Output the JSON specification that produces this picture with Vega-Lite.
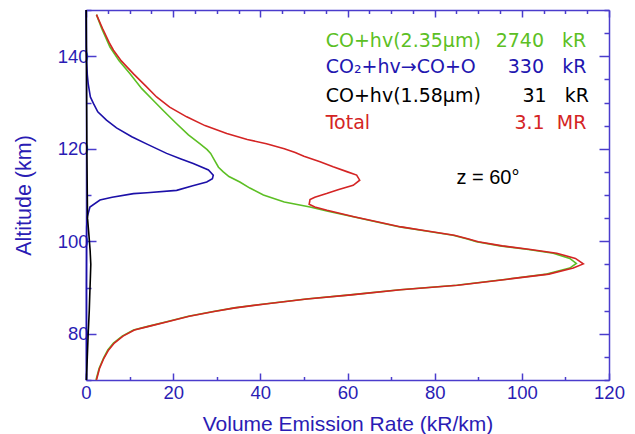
{
 "$schema": "https://vega.github.io/schema/vega-lite/v6.json",
 "width": 523, "height": 370,
 "autosize": {"type": "none"},
 "padding": {"left": 86, "top": 10, "right": 26, "bottom": 54},
 "background": "white",
 "config": {"view": {"stroke": null}, "font": "Liberation Sans"},
 "datasets": {
  "curves": [
   {"s":"g","y":149.0,"x":2.4},{"s":"g","y":146,"x":3.6},{"s":"g","y":142.0,"x":5.5},{"s":"g","y":139,"x":7.6},{"s":"g","y":136.2,"x":10.1},{"s":"g","y":133,"x":12.8},{"s":"g","y":130.5,"x":15.4},{"s":"g","y":128,"x":18.0},{"s":"g","y":125.4,"x":20.8},{"s":"g","y":123,"x":23.5},{"s":"g","y":121.1,"x":26.1},{"s":"g","y":119.8,"x":27.8},{"s":"g","y":119.0,"x":28.6},{"s":"g","y":117.5,"x":29.5},{"s":"g","y":116.0,"x":30.4},{"s":"g","y":115.0,"x":31.5},{"s":"g","y":114.0,"x":32.8},{"s":"g","y":112.8,"x":35.3},{"s":"g","y":111.5,"x":37.6},{"s":"g","y":110.0,"x":40.7},{"s":"g","y":108.5,"x":45.5},{"s":"g","y":107.4,"x":51.4},{"s":"g","y":106.5,"x":55.5},{"s":"g","y":105.3,"x":61.3},{"s":"g","y":104.2,"x":66.5},{"s":"g","y":103.1,"x":72.0},{"s":"g","y":102.2,"x":78.0},{"s":"g","y":101.3,"x":84.2},{"s":"g","y":100.5,"x":87.5},{"s":"g","y":99.9,"x":89.6},{"s":"g","y":99.0,"x":95.0},{"s":"g","y":98.2,"x":101.5},{"s":"g","y":97.4,"x":107.2},{"s":"g","y":96.3,"x":111.0},{"s":"g","y":95.2,"x":112.5},{"s":"g","y":94.2,"x":111.0},{"s":"g","y":92.9,"x":105.7},{"s":"g","y":91.8,"x":96.5},{"s":"g","y":90.5,"x":85.0},{"s":"g","y":89.5,"x":72.0},{"s":"g","y":88.4,"x":60.6},{"s":"g","y":87.5,"x":50.5},{"s":"g","y":86.5,"x":41.4},{"s":"g","y":85.6,"x":34.0},{"s":"g","y":84.8,"x":29.2},{"s":"g","y":83.8,"x":23.5},{"s":"g","y":82.6,"x":18.5},{"s":"g","y":81.6,"x":14.2},{"s":"g","y":80.8,"x":10.9},{"s":"g","y":79.5,"x":8.3},{"s":"g","y":78.0,"x":6.3},{"s":"g","y":76.5,"x":5.0},{"s":"g","y":74.7,"x":4.0},{"s":"g","y":72.5,"x":3.0},{"s":"g","y":70.0,"x":2.3},
   {"s":"r","y":149.0,"x":2.4},{"s":"r","y":146,"x":3.8},{"s":"r","y":143,"x":5.3},{"s":"r","y":141.3,"x":6.3},{"s":"r","y":139,"x":8.1},{"s":"r","y":136.2,"x":10.9},{"s":"r","y":133.5,"x":13.8},{"s":"r","y":131.2,"x":16.2},{"s":"r","y":129,"x":19.2},{"s":"r","y":126.9,"x":23.1},{"s":"r","y":125,"x":27.3},{"s":"r","y":123.3,"x":32.3},{"s":"r","y":122,"x":37.0},{"s":"r","y":121.1,"x":41.4},{"s":"r","y":120.0,"x":45.5},{"s":"r","y":119.2,"x":48.0},{"s":"r","y":118.4,"x":50.0},{"s":"r","y":117.2,"x":53.7},{"s":"r","y":116.1,"x":56.7},{"s":"r","y":115.0,"x":60.0},{"s":"r","y":114.3,"x":62.1},{"s":"r","y":113.2,"x":62.8},{"s":"r","y":112.1,"x":61.3},{"s":"r","y":111.2,"x":58.0},{"s":"r","y":110.3,"x":55.2},{"s":"r","y":109.5,"x":52.5},{"s":"r","y":109.0,"x":51.4},{"s":"r","y":108.0,"x":51.2},{"s":"r","y":107.4,"x":52.5},{"s":"r","y":106.7,"x":55.3},{"s":"r","y":105.3,"x":61.5},{"s":"r","y":104.2,"x":66.8},{"s":"r","y":103.1,"x":72.3},{"s":"r","y":102.2,"x":78.3},{"s":"r","y":101.3,"x":84.5},{"s":"r","y":100.5,"x":87.8},{"s":"r","y":99.9,"x":90.0},{"s":"r","y":99.0,"x":95.5},{"s":"r","y":98.2,"x":102.0},{"s":"r","y":97.4,"x":108.0},{"s":"r","y":96.3,"x":112.3},{"s":"r","y":95.1,"x":114.1},{"s":"r","y":94.2,"x":111.8},{"s":"r","y":92.9,"x":106.2},{"s":"r","y":91.8,"x":96.8},{"s":"r","y":90.5,"x":85.3},{"s":"r","y":89.5,"x":72.2},{"s":"r","y":88.4,"x":60.8},{"s":"r","y":87.5,"x":50.7},{"s":"r","y":86.5,"x":41.6},{"s":"r","y":85.6,"x":34.2},{"s":"r","y":84.8,"x":29.4},{"s":"r","y":83.8,"x":23.7},{"s":"r","y":82.6,"x":18.7},{"s":"r","y":81.6,"x":14.4},{"s":"r","y":80.8,"x":11.1},{"s":"r","y":79.5,"x":8.5},{"s":"r","y":78.0,"x":6.5},{"s":"r","y":76.5,"x":5.2},{"s":"r","y":74.7,"x":4.1},{"s":"r","y":72.5,"x":3.1},{"s":"r","y":70.0,"x":2.4},
   {"s":"b","y":150,"x":0},{"s":"b","y":142,"x":0.05},{"s":"b","y":138.5,"x":0.15},{"s":"b","y":136,"x":0.3},{"s":"b","y":134.1,"x":0.5},{"s":"b","y":131.2,"x":1.0},{"s":"b","y":129.8,"x":1.7},{"s":"b","y":128,"x":2.7},{"s":"b","y":126.2,"x":4.7},{"s":"b","y":124.5,"x":7.0},{"s":"b","y":122.6,"x":10.5},{"s":"b","y":121,"x":14.0},{"s":"b","y":119.0,"x":18.5},{"s":"b","y":117.8,"x":21.8},{"s":"b","y":116.8,"x":24.6},{"s":"b","y":115.4,"x":28.1},{"s":"b","y":114.3,"x":29.2},{"s":"b","y":113.5,"x":29.0},{"s":"b","y":112.8,"x":27.7},{"s":"b","y":112,"x":24.5},{"s":"b","y":111.0,"x":20.8},{"s":"b","y":110.5,"x":14.0},{"s":"b","y":110.3,"x":10.9},{"s":"b","y":109.5,"x":6.0},{"s":"b","y":108.9,"x":3.2},{"s":"b","y":107.4,"x":0.9},{"s":"b","y":105.3,"x":0.3},{"s":"b","y":103,"x":0.15},{"s":"b","y":90,"x":0.1},{"s":"b","y":70,"x":0.1},
   {"s":"k","y":150,"x":0.05},{"s":"k","y":140,"x":0.1},{"s":"k","y":130,"x":0.15},{"s":"k","y":120,"x":0.2},{"s":"k","y":110,"x":0.3},{"s":"k","y":105,"x":0.35},{"s":"k","y":101,"x":0.7},{"s":"k","y":98,"x":0.95},{"s":"k","y":95,"x":1.1},{"s":"k","y":92,"x":1.0},{"s":"k","y":88,"x":0.85},{"s":"k","y":85,"x":0.75},{"s":"k","y":80,"x":0.5},{"s":"k","y":75,"x":0.3},{"s":"k","y":70,"x":0.1}
  ]
 },
 "layer": [
  {"layer": [
   {"data": {"name": "curves"}, "transform": [{"filter": "datum.s === 'g'"}],
    "mark": {"type": "line", "color": "#5cbf24", "strokeWidth": 1.6},
    "encoding": {
     "x": {"field": "x", "type": "quantitative", "scale": {"domain": [0, 120], "nice": false, "zero": false},
      "axis": {"title": "Volume Emission Rate (kR/km)", "values": [0,5,10,15,20,25,30,35,40,45,50,55,60,65,70,75,80,85,90,95,100,105,110,115,120],
       "labelExpr": "datum.value % 20 === 0 ? datum.label : ''",
       "tickSize": {"condition": {"test": "datum.value % 20 === 0", "value": -7}, "value": -3.5},
       "grid": false, "domainColor": "#4a3ccc", "tickColor": "#4a3ccc", "domainWidth": 1.5, "tickWidth": 1.5,
       "labelColor": "#2a1cb4", "labelFontSize": 18.5, "labelFont": "Liberation Sans", "labelPadding": 10, "labelFlush": false, "labelOverlap": false,
       "titleColor": "#2a1cb4", "titleFontSize": 21, "titleFontWeight": "normal", "titleFont": "Liberation Sans", "titlePadding": 8}},
     "y": {"field": "y", "type": "quantitative", "scale": {"domain": [70, 150], "nice": false, "zero": false},
      "axis": {"title": "Altitude (km)", "values": [70,75,80,85,90,95,100,105,110,115,120,125,130,135,140,145,150],
       "labelExpr": "datum.value % 20 === 0 ? datum.label : ''",
       "tickSize": {"condition": {"test": "datum.value % 20 === 0", "value": -10}, "value": -5},
       "grid": false, "domainColor": "#4a3ccc", "tickColor": "#4a3ccc", "domainWidth": 1.5, "tickWidth": 1.5,
       "labelColor": "#2a1cb4", "labelFontSize": 18.5, "labelFont": "Liberation Sans", "labelPadding": 8, "labelFlush": false, "labelOverlap": false,
       "titleColor": "#2a1cb4", "titleFontSize": 21.5, "titleFontWeight": "normal", "titleFont": "Liberation Sans", "titlePadding": 22}},
     "order": {"value": null}}},
   {"data": {"name": "curves"}, "transform": [{"filter": "datum.s === 'r'"}],
    "mark": {"type": "line", "color": "#d42424", "strokeWidth": 1.6},
    "encoding": {"x": {"field": "x", "type": "quantitative"}, "y": {"field": "y", "type": "quantitative"}, "order": {"value": null}}},
   {"data": {"name": "curves"}, "transform": [{"filter": "datum.s === 'b'"}],
    "mark": {"type": "line", "color": "#1c10a8", "strokeWidth": 1.6},
    "encoding": {"x": {"field": "x", "type": "quantitative"}, "y": {"field": "y", "type": "quantitative"}, "order": {"value": null}}},
   {"data": {"name": "curves"}, "transform": [{"filter": "datum.s === 'k'"}],
    "mark": {"type": "line", "color": "#000000", "strokeWidth": 1.6},
    "encoding": {"x": {"field": "x", "type": "quantitative"}, "y": {"field": "y", "type": "quantitative"}, "order": {"value": null}}},
   {"data": {"values": [{"t": "CO+hv(2.35μm)", "v": "2740\u00a0\u00a0\u00a0kR"}]},
    "layer": [
     {"mark": {"type": "text", "align": "left", "baseline": "middle", "font": "DejaVu Sans", "fontSize": 19, "color": "#5cbf24"},
      "encoding": {"x": {"datum": 55, "type": "quantitative"}, "y": {"datum": 143.4, "type": "quantitative"}, "text": {"field": "t"}}},
     {"mark": {"type": "text", "align": "right", "baseline": "middle", "font": "DejaVu Sans", "fontSize": 19, "color": "#5cbf24"},
      "encoding": {"x": {"datum": 114.8, "type": "quantitative"}, "y": {"datum": 143.4, "type": "quantitative"}, "text": {"field": "v"}}}
    ]},
   {"data": {"values": [{"t": "CO₂+hv→CO+O", "v": "330\u00a0\u00a0\u00a0kR"}]},
    "layer": [
     {"mark": {"type": "text", "align": "left", "baseline": "middle", "font": "DejaVu Sans", "fontSize": 19, "color": "#2216b0"},
      "encoding": {"x": {"datum": 55, "type": "quantitative"}, "y": {"datum": 137.6, "type": "quantitative"}, "text": {"field": "t"}}},
     {"mark": {"type": "text", "align": "right", "baseline": "middle", "font": "DejaVu Sans", "fontSize": 19, "color": "#2216b0"},
      "encoding": {"x": {"datum": 114.8, "type": "quantitative"}, "y": {"datum": 137.6, "type": "quantitative"}, "text": {"field": "v"}}}
    ]},
   {"data": {"values": [{"t": "CO+hv(1.58μm)", "v": "31\u00a0\u00a0\u00a0kR"}]},
    "layer": [
     {"mark": {"type": "text", "align": "left", "baseline": "middle", "font": "DejaVu Sans", "fontSize": 19, "color": "#000000"},
      "encoding": {"x": {"datum": 55, "type": "quantitative"}, "y": {"datum": 131.3, "type": "quantitative"}, "text": {"field": "t"}}},
     {"mark": {"type": "text", "align": "right", "baseline": "middle", "font": "DejaVu Sans", "fontSize": 19, "color": "#000000"},
      "encoding": {"x": {"datum": 115.4, "type": "quantitative"}, "y": {"datum": 131.3, "type": "quantitative"}, "text": {"field": "v"}}}
    ]},
   {"data": {"values": [{"t": "Total", "v": "3.1\u00a0\u00a0MR"}]},
    "layer": [
     {"mark": {"type": "text", "align": "left", "baseline": "middle", "font": "DejaVu Sans", "fontSize": 19, "color": "#d42424"},
      "encoding": {"x": {"datum": 55, "type": "quantitative"}, "y": {"datum": 125.6, "type": "quantitative"}, "text": {"field": "t"}}},
     {"mark": {"type": "text", "align": "right", "baseline": "middle", "font": "DejaVu Sans", "fontSize": 19, "color": "#d42424"},
      "encoding": {"x": {"datum": 114.8, "type": "quantitative"}, "y": {"datum": 125.6, "type": "quantitative"}, "text": {"field": "v"}}}
    ]},
   {"data": {"values": [{"t": "z = 60°"}]},
    "mark": {"type": "text", "align": "left", "baseline": "middle", "font": "Liberation Sans", "fontSize": 20, "color": "#000000"},
    "encoding": {"x": {"datum": 85, "type": "quantitative"}, "y": {"datum": 113.7, "type": "quantitative"}, "text": {"field": "t"}}}
  ]},
  {"data": {"name": "curves"},
   "mark": {"type": "point", "opacity": 0},
   "encoding": {
    "x": {"field": "x", "type": "quantitative", "scale": {"domain": [0, 120], "nice": false, "zero": false},
     "axis": {"title": null, "labels": false, "values": [0,5,10,15,20,25,30,35,40,45,50,55,60,65,70,75,80,85,90,95,100,105,110,115,120],
      "tickSize": {"condition": {"test": "datum.value % 20 === 0", "value": -7}, "value": -3.5},
      "grid": false, "domainColor": "#4a3ccc", "tickColor": "#4a3ccc", "domainWidth": 1.5, "tickWidth": 1.5}},
    "y": {"field": "y", "type": "quantitative", "scale": {"domain": [70, 150], "nice": false, "zero": false},
     "axis": {"title": null, "labels": false, "values": [70,75,80,85,90,95,100,105,110,115,120,125,130,135,140,145,150],
      "tickSize": {"condition": {"test": "datum.value % 20 === 0", "value": -10}, "value": -5},
      "grid": false, "domainColor": "#4a3ccc", "tickColor": "#4a3ccc", "domainWidth": 1.5, "tickWidth": 1.5}}
   }}
 ],
 "resolve": {"axis": {"x": "independent", "y": "independent"}}
}
